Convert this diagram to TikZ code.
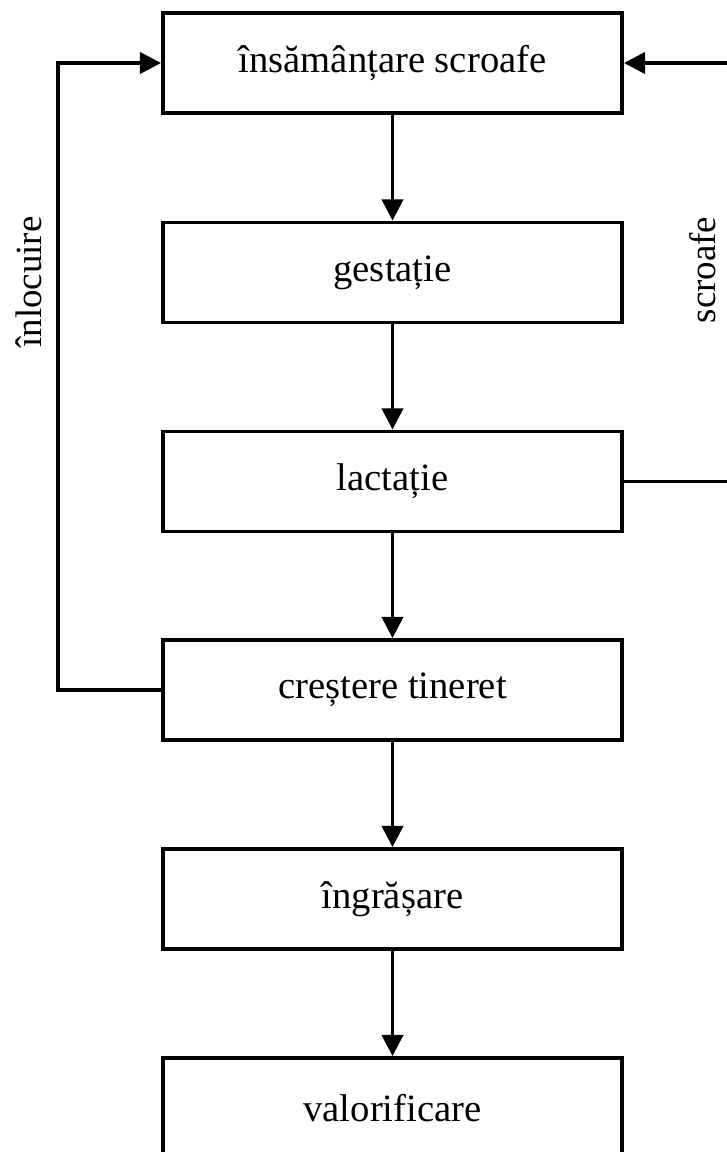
\documentclass[tikz,border=0pt]{standalone}
\usepackage{fontspec}
\setmainfont{Liberation Serif}
\usetikzlibrary{arrows.meta}

\begin{document}
\begin{tikzpicture}[
    etapa/.style={draw, line width=2.2pt, minimum width=9.18cm, minimum height=2cm,
      font=\fontsize{22}{26}\selectfont},
    sageata/.style={line width=2pt, -{Triangle[length=12pt,width=12pt]}},
    eticheta/.style={rotate=90, font=\fontsize{21}{25}\selectfont}
  ]
  \useasboundingbox (0,0) rectangle (14.52,-23.04);

  % etapele
  \node[etapa] (ins) at (7.85,-1.26) {însămânțare scroafe};
  \node[etapa] (gest) at (7.85,-5.45) {gestație};
  \node[etapa] (lact) at (7.85,-9.63) {lactație};
  \node[etapa] (cres) at (7.85,-13.8) {creștere tineret};
  \node[etapa] (ingr) at (7.85,-17.98) {îngrășare};
  \node[etapa] (val) at (7.85,-22.16) {valorificare};

  \foreach \a/\b in {ins/gest, gest/lact, lact/cres, cres/ingr, ingr/val}
    \draw[sageata] (\a) -- (\b);

  % bucle laterale
  \coordinate (stg) at (1.16,0);
  \coordinate (dr) at (14.9,0);
  \draw[sageata] (cres.west) -- (cres.west -| stg) |- (ins.west);
  \draw[sageata] (lact.east) -- (lact.east -| dr) |- (ins.east);

  \node[eticheta] (inloc) at (0.58,-5.64) {înlocuire};
  \node[eticheta] (scr) at (14.06,-5.4) {scroafe};
\end{tikzpicture}
\end{document}
